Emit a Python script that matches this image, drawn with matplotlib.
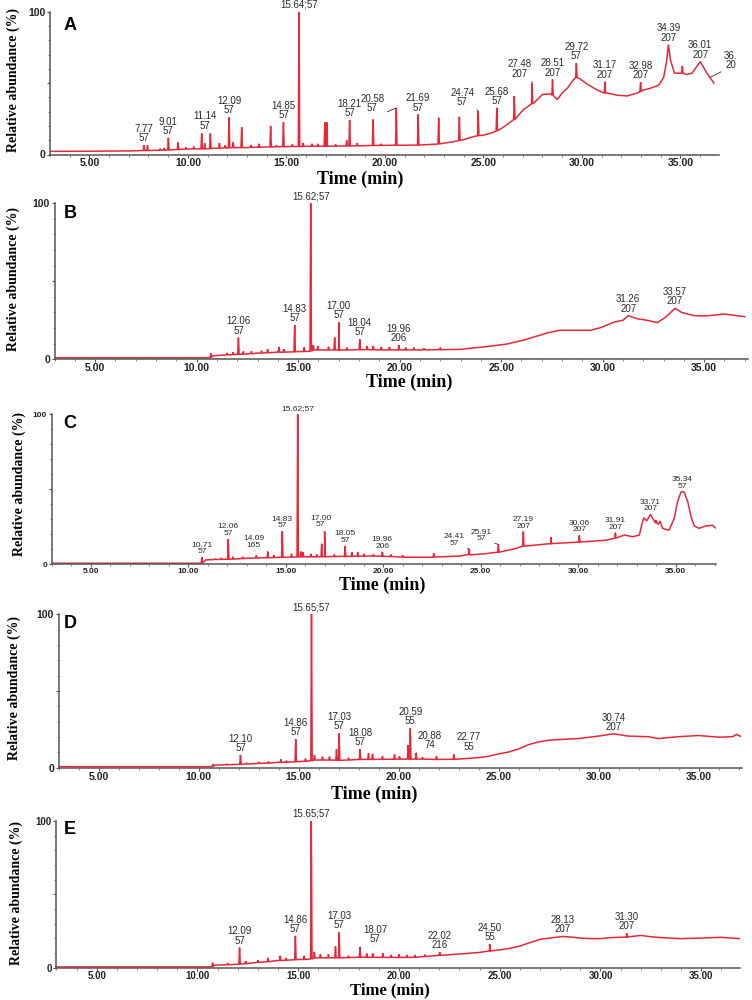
import numpy as np
import matplotlib
matplotlib.use('Agg')
import matplotlib.pyplot as plt
from matplotlib.ticker import MultipleLocator, FixedLocator, FormatStrFormatter

# ---------------- data (retention time in min, relative abundance in %) ----------------
# baseline knots + spikes (time, foot, apex)

a_base_t = [3.0, 5.0, 7.0, 8.5, 10.0, 11.0, 12.0, 13.0, 14.0, 15.0, 16.0, 17.0, 18.0, 19.0, 20.0,
            21.0, 22.0, 22.8, 23.5, 24.0, 24.5, 25.0, 25.5, 26.0, 26.5, 27.0, 27.5, 28.0, 28.4,
            28.75, 29.0, 29.3, 29.55, 29.9, 30.3, 30.8, 31.3, 31.8, 32.3, 32.8, 33.1, 33.5, 33.9,
            34.15, 34.3, 34.39, 34.5, 34.7, 35.0, 35.3, 35.6, 35.85, 36.01, 36.3, 36.5, 36.7]
a_base_y = [2.2, 2.3, 2.5, 3.0, 3.8, 4.0, 4.5, 4.8, 5.2, 5.5, 5.8, 5.8, 6.0, 6.2, 6.4,
            6.5, 6.8, 7.5, 9.0, 10.5, 12.5, 13.5, 15.5, 19.0, 24.0, 31.0, 36.0, 42.0, 42.5,
            38.5, 43.0, 47.0, 52.0, 53.0, 49.0, 45.0, 43.0, 41.5, 41.0, 43.0, 45.0, 46.5, 48.5,
            54.0, 65.0, 77.0, 66.0, 57.0, 57.0, 56.0, 57.0, 62.0, 65.0, 58.0, 54.0, 50.0]
a_spikes = [(7.77, 2.8, 6.5), (7.95, 2.8, 6.5), (8.6, 3.0, 4.0), (8.8, 3.0, 4.5), (9.01, 3.2, 11.7),
            (9.5, 3.5, 8.4), (9.9, 3.8, 5.0), (10.3, 3.9, 5.5), (10.7, 4.0, 14.7), (10.85, 4.0, 8.0),
            (11.14, 4.2, 14.7), (11.6, 4.5, 8.0), (11.9, 4.6, 6.5), (12.09, 4.7, 26.0), (12.3, 4.8, 8.5),
            (12.73, 4.8, 19.0), (13.2, 5.0, 6.5), (13.6, 5.1, 7.5), (14.2, 5.3, 20.0), (14.5, 5.4, 6.5),
            (14.85, 5.5, 22.6), (15.3, 5.6, 7.0), (15.64, 5.6, 100.0), (15.85, 5.7, 8.0), (16.3, 5.8, 7.5),
            (16.6, 5.8, 7.5), (16.95, 5.8, 22.5), (17.05, 5.8, 22.5), (17.5, 5.9, 7.0), (18.06, 6.0, 9.8),
            (18.21, 6.0, 24.0), (18.6, 6.1, 8.0), (19.4, 6.3, 24.5), (19.8, 6.4, 7.5), (20.58, 6.5, 32.6),
            (21.69, 6.6, 28.0), (22.73, 7.3, 25.7), (23.78, 9.8, 26.4), (24.74, 13.2, 30.4),
            (25.68, 16.5, 32.7), (26.57, 24.5, 41.0), (27.48, 35.5, 49.7), (28.51, 41.5, 52.5),
            (29.72, 54.0, 64.0), (31.17, 43.0, 51.0), (32.98, 44.0, 50.7), (35.1, 57.0, 62.0)]
a_labels = ["15.64;57", "7.77\n57", "9.01\n57", "11.14\n57", "12.09\n57", "14.85\n57", "18.21\n57",
            "20.58\n57", "21.69\n57", "24.74\n57", "25.68\n57", "27.48\n207", "28.51\n207", "29.72\n57",
            "31.17\n207", "32.98\n207", "34.39\n207", "36.01\n207", "36.\n20"]
a_label_t = [15.64, 7.77, 9.01, 11.14, 12.09, 14.85, 18.21, 20.58, 21.69, 24.74, 25.68, 27.48, 28.51,
             29.72, 31.17, 32.98, 34.39, 36.01, 36.5]

b_base_t = [3.0, 10.6, 10.8, 12.0, 13.0, 14.0, 15.0, 16.0, 17.0, 18.0, 19.0, 20.0, 21.0, 22.0, 23.0,
            24.2, 25.3, 26.1, 26.8, 27.3, 27.9, 29.4, 29.9, 30.6, 31.0, 31.26, 31.7, 32.2, 32.7, 33.1,
            33.57, 33.9, 34.5, 35.1, 36.0, 37.0]
b_base_y = [1.0, 1.0, 2.3, 3.2, 4.0, 4.6, 5.0, 6.0, 6.0, 6.2, 6.0, 6.0, 6.0, 6.2, 6.4,
            8.0, 9.8, 12.3, 15.0, 17.0, 18.6, 18.6, 20.3, 24.0, 25.0, 28.0, 26.0, 25.0, 23.5, 27.0,
            32.7, 30.0, 28.0, 27.8, 29.0, 27.3]
b_spikes = [(10.7, 1.2, 3.8), (11.5, 2.8, 4.0), (11.8, 3.0, 4.5), (12.06, 3.2, 13.9), (12.3, 3.3, 5.0),
            (12.7, 3.6, 5.0), (13.2, 4.0, 5.5), (13.5, 4.2, 6.5), (14.06, 4.5, 8.0), (14.3, 4.6, 6.5),
            (14.83, 4.8, 22.0), (15.3, 5.0, 7.7), (15.62, 5.2, 100.0), (15.75, 6.0, 9.0), (15.98, 6.0, 8.5),
            (16.5, 6.0, 8.0), (16.8, 6.0, 14.0), (17.0, 6.0, 23.7), (17.4, 6.0, 7.5), (18.04, 6.2, 12.8),
            (18.4, 6.2, 8.5), (18.7, 6.1, 8.5), (19.1, 6.0, 8.0), (19.5, 6.0, 8.0), (19.96, 6.0, 9.2),
            (20.3, 6.0, 7.5), (20.7, 6.0, 7.5), (21.2, 6.0, 7.0), (22.0, 6.2, 7.5)]
b_labels = ["15.62;57", "12.06\n57", "14.83\n57", "17.00\n57", "18.04\n57", "19.96\n206",
            "31.26\n207", "33.57\n207"]
b_label_t = [15.62, 12.06, 14.83, 17.0, 18.04, 19.96, 31.26, 33.57]

c_base_t = [3.0, 10.6, 10.9, 12.0, 13.0, 14.0, 15.0, 16.0, 17.0, 18.0, 19.0, 20.0, 21.3, 22.5, 23.9,
            24.5, 25.2, 26.0, 26.8, 27.3, 28.6, 30.15, 31.4, 31.95, 32.37, 32.8, 33.14, 33.28, 33.37,
            33.52, 33.71, 33.9, 34.12, 34.2, 34.33, 34.58, 34.67, 34.93, 35.1, 35.27, 35.34, 35.44,
            35.62, 35.79, 35.96, 36.21, 36.55, 36.89, 37.06]
c_base_y = [0.7, 0.7, 2.9, 3.4, 4.0, 4.4, 4.7, 5.0, 5.1, 5.3, 5.5, 5.3, 4.7, 4.7, 5.5,
            6.3, 7.0, 8.2, 10.5, 12.2, 13.8, 14.9, 16.0, 17.5, 19.5, 18.4, 19.5, 27.3, 31.0,
            28.9, 33.3, 28.9, 26.7, 28.9, 24.0, 22.9, 22.9, 30.7, 41.8, 48.0, 48.4, 48.0,
            41.8, 31.8, 25.5, 24.0, 25.6, 26.0, 24.2]
c_spikes = [(10.71, 0.9, 4.7), (11.4, 3.2, 3.8), (11.7, 3.3, 4.2), (12.06, 3.4, 16.9), (12.3, 3.5, 5.0),
            (12.8, 3.8, 5.0), (13.5, 4.2, 6.0), (14.09, 4.4, 8.2), (14.4, 4.5, 6.0), (14.83, 4.7, 22.0),
            (15.3, 4.8, 7.0), (15.62, 4.9, 100.0), (15.78, 5.0, 8.5), (15.9, 5.0, 8.0), (16.3, 5.0, 7.0),
            (16.6, 5.0, 6.5), (16.85, 5.1, 13.7), (17.0, 5.1, 22.0), (17.5, 5.2, 6.5), (18.05, 5.3, 12.2),
            (18.4, 5.3, 8.0), (18.7, 5.4, 8.0), (19.0, 5.5, 7.0), (19.5, 5.5, 6.5), (19.96, 5.4, 8.2),
            (20.4, 5.2, 6.5), (21.0, 4.8, 6.0), (22.6, 4.8, 7.3), (24.41, 6.5, 10.2), (25.91, 8.1, 13.3),
            (27.19, 12.1, 21.8), (28.6, 13.8, 18.2), (30.06, 14.8, 19.3), (31.91, 17.4, 21.1),
            (34.0, 27.5, 29.5)]
c_labels = ["15.62;57", "10.71\n57", "12.06\n57", "14.09\n165", "14.83\n57", "17.00\n57", "18.05\n57",
            "19.96\n206", "24.41\n57", "25.91\n57", "27.19\n207", "30.06\n207", "31.91\n207",
            "33.71\n207", "35.34\n57"]
c_label_t = [15.62, 10.71, 12.06, 14.09, 14.83, 17.0, 18.05, 19.96, 24.41, 25.91, 27.19, 30.06, 31.91,
             33.71, 35.34]

d_base_t = [3.0, 10.6, 10.8, 12.0, 13.0, 14.0, 15.0, 16.0, 17.0, 18.0, 19.0, 20.0, 21.0, 22.0, 23.0,
            24.0, 24.5, 25.0, 25.5, 26.0, 26.5, 27.0, 27.5, 28.0, 29.0, 30.0, 30.74, 31.5, 32.5, 33.0,
            34.0, 35.0, 36.0, 36.7, 36.9, 37.1]
d_base_y = [0.7, 0.7, 1.6, 2.2, 2.8, 3.5, 4.0, 5.0, 4.8, 5.4, 5.5, 5.6, 5.6, 5.4, 5.6,
            6.6, 7.4, 9.0, 10.2, 12.2, 15.0, 16.8, 17.9, 18.3, 19.0, 20.6, 22.1, 20.6, 20.2, 19.0,
            20.2, 21.0, 19.9, 20.2, 21.7, 20.5]
d_spikes = [(10.73, 0.9, 2.2), (11.4, 1.9, 2.6), (12.1, 2.2, 8.3), (12.4, 2.4, 3.2), (13.0, 2.8, 3.8),
            (13.5, 3.0, 4.0), (14.12, 3.5, 5.4), (14.4, 3.6, 4.6), (14.86, 3.9, 18.6), (15.35, 4.2, 5.9),
            (15.65, 4.5, 100.0), (15.8, 5.0, 8.3), (16.2, 5.0, 7.2), (16.55, 5.0, 7.2), (16.9, 4.9, 12.0),
            (17.03, 4.8, 22.3), (17.5, 5.0, 6.5), (18.08, 5.4, 12.0), (18.5, 5.4, 9.5), (18.7, 5.4, 9.0),
            (19.2, 5.5, 7.5), (19.8, 5.5, 8.6), (20.05, 5.6, 7.5), (20.48, 5.6, 14.8), (20.59, 5.6, 25.7),
            (20.88, 5.6, 9.6), (21.2, 5.6, 6.8), (21.9, 5.4, 7.4), (22.77, 5.5, 8.5)]
d_labels = ["15.65;57", "12.10\n57", "14.86\n57", "17.03\n57", "18.08\n57", "20.59\n55", "20.88\n74",
            "22.77\n55", "30.74\n207"]
d_label_t = [15.65, 12.1, 14.86, 17.03, 18.08, 20.59, 20.88, 22.77, 30.74]

e_base_t = [3.0, 10.6, 10.8, 12.0, 13.0, 14.0, 15.0, 16.0, 17.0, 18.0, 19.0, 20.0, 21.0, 22.0, 23.0,
            24.0, 24.5, 25.0, 25.5, 26.0, 26.5, 27.0, 27.5, 28.13, 28.5, 29.0, 29.5, 30.0, 30.5, 31.3,
            32.0, 32.5, 33.0, 34.0, 35.0, 36.0, 36.9]
e_base_y = [0.4, 0.4, 1.5, 2.2, 3.7, 4.8, 5.5, 6.6, 6.6, 7.0, 6.9, 6.9, 7.2, 8.3, 9.2,
            10.3, 11.3, 12.0, 13.1, 14.6, 17.0, 19.2, 20.1, 21.2, 20.8, 20.1, 19.7, 19.7, 20.4, 20.8,
            21.9, 21.0, 20.4, 19.7, 20.1, 20.6, 19.7]
e_spikes = [(10.75, 0.6, 3.3), (11.5, 1.9, 3.0), (12.09, 2.3, 13.6), (12.4, 2.6, 4.4), (13.0, 3.5, 5.0),
            (13.5, 4.0, 6.6), (14.11, 4.8, 8.0), (14.4, 5.0, 6.5), (14.86, 5.3, 21.6), (15.3, 5.5, 8.0),
            (15.65, 5.8, 100.0), (15.8, 6.5, 10.7), (16.1, 6.6, 9.0), (16.5, 6.6, 9.0), (16.85, 6.6, 14.5),
            (17.03, 6.6, 23.9), (17.5, 6.8, 8.0), (18.07, 7.0, 14.0), (18.4, 7.0, 9.5), (18.7, 7.0, 9.5),
            (19.2, 6.9, 9.7), (19.6, 6.9, 8.5), (20.0, 6.9, 9.0), (20.4, 6.9, 8.5), (20.8, 7.0, 8.5),
            (21.3, 7.5, 8.8), (22.02, 8.3, 10.5), (24.5, 11.3, 16.0), (31.3, 20.8, 23.5)]
e_labels = ["15.65;57", "12.09\n57", "14.86\n57", "17.03\n57", "18.07\n57", "22.02\n216", "24.50\n55",
            "28.13\n207", "31.30\n207"]
e_label_t = [15.65, 12.09, 14.86, 17.03, 18.07, 22.02, 24.5, 28.13, 31.3]

# ---------------- layout (pixels on a 752x1000 canvas) ----------------
W, H = 752, 1000
RED = '#e8283a'
SPIKE_W = 0.035

# name, data..., (left, right, top(100 %), bottom(0 %), xmax), letter y, ylabel (x, y), xlabel (x, y),
# peak label size, tick label size, xlabel size
PANELS = [
    ('A', a_base_t, a_base_y, a_spikes, a_labels, a_label_t,
     (50, 719, 11.7, 154.5, 36.96), 25, (13, 80), (360, 179), 7, 7.5, 13),
    ('B', b_base_t, b_base_y, b_spikes, b_labels, b_label_t,
     (54.5, 748, 203.3, 359.3, 37.16), 213, (13, 279), (409, 382), 7, 7.5, 13),
    ('C', c_base_t, c_base_y, c_spikes, c_labels, c_label_t,
     (51.6, 716, 414.3, 564.3, 37.07), 423, (19, 484), (382, 585), 6, 6, 13),
    ('D', d_base_t, d_base_y, d_spikes, d_labels, d_label_t,
     (58.5, 741.7, 614.3, 767.7, 37.16), 624, (14, 688), (374, 794), 7, 7.5, 13),
    ('E', e_base_t, e_base_y, e_spikes, e_labels, e_label_t,
     (56.4, 740.3, 821, 967.5, 36.94), 830, (16, 893), (390, 990), 7, 7, 12),
]

# label offsets (px) from the peak apex; True draws a leader line
OFFSETS = {
    ('A', '11.14'): (-5, 3, False),
    ('A', '20.58'): (-24, -5, True),
    ('A', '24.74'): (-16, 4, True),
    ('A', '27.48'): (-13, 5, True),
    ('A', '36.'): (14, 7, True),
    ('C', '14.09'): (-14, 3, True),
    ('C', '17.00'): (-4, 3, False),
    ('C', '24.41'): (-15, 2, True),
    ('C', '25.91'): (-17, 2, True),
    ('D', '20.88'): (14, 3, True),
    ('D', '22.77'): (15, 3, True),
    ('E', '18.07'): (15, 3, True),
}


def build_trace(base_t, base_y, spikes):
    pts = list(zip(base_t, base_y))
    for t, foot, top in spikes:
        pts += [(t - SPIKE_W, foot), (t, top), (t + SPIKE_W, foot)]
    pts.sort()
    return np.array(pts).T


fig = plt.figure(figsize=(W / 100, H / 100), dpi=100)

for (name, bt, by, spk, labels, label_t, box, letter_y, ylab_xy, xlab_xy,
     lab_size, tick_size, xlab_size) in PANELS:
    left, right, top, bottom, xmax = box
    ax = fig.add_axes([left / W, 1 - bottom / H, (right - left) / W, (bottom - top) / H])
    tx, ty = build_trace(bt, by, spk)
    ax.plot(tx, ty, color=RED, lw=1.1, solid_joinstyle='miter')
    ax.set_xlim(3, xmax)
    ax.set_ylim(0, 100)

    for s in ('top', 'right'):
        ax.spines[s].set_visible(False)
    for s in ('left', 'bottom'):
        ax.spines[s].set_color('#555555')
        ax.spines[s].set_linewidth(1.1)

    ax.xaxis.set_major_locator(FixedLocator([5, 10, 15, 20, 25, 30, 35]))
    ax.xaxis.set_major_formatter(FormatStrFormatter('%.2f'))
    ax.xaxis.set_minor_locator(MultipleLocator(1))
    ax.yaxis.set_major_locator(FixedLocator([0, 50, 100]))
    ax.set_yticklabels(['0', '', '100'])
    ax.yaxis.set_minor_locator(MultipleLocator(10))
    ax.tick_params(which='major', length=2, width=0.8, color='#555555', pad=1.2,
                   labelsize=tick_size, labelcolor='#222222')
    ax.tick_params(axis='x', which='major', pad=0.8)
    ax.tick_params(which='minor', length=1.3, width=0.6, color='#777777')
    for lab in ax.get_xticklabels() + ax.get_yticklabels():
        lab.set_fontweight('bold')
        lab.set_family('Liberation Sans')

    for text, t0 in zip(labels, label_t):
        near = np.abs(tx - t0) <= 0.05
        y0 = ty[near].max()
        key = (name, text.split('\n')[0].split(';')[0])
        dx, dy, leader = OFFSETS.get(key, (0, 2, False))
        ha = 'left' if text.startswith('36.\n') else 'center'
        arrow = None
        if leader:
            rel = (1, 0) if dx < 0 else (0, 0)
            arrow = dict(arrowstyle='-', color='#333333', lw=0.6, shrinkA=0, shrinkB=0,
                         relpos=rel)
        ax.annotate(text, (t0, y0), xytext=(dx, dy), textcoords='offset pixels',
                    ha=ha, va='bottom', fontsize=lab_size, family='Liberation Sans',
                    color='#2a2a2a', linespacing=0.9, multialignment='center',
                    annotation_clip=False, arrowprops=arrow)

    fig.text(70 / W, 1 - letter_y / H, name, fontsize=13, fontweight='bold',
             family='Liberation Sans', ha='center', va='center')
    fig.text(ylab_xy[0] / W, 1 - ylab_xy[1] / H, 'Relative abundance (%)', rotation=90,
             fontsize=10, fontweight='bold', family='Liberation Serif', ha='center', va='center')
    fig.text(xlab_xy[0] / W, 1 - xlab_xy[1] / H, 'Time (min)', fontsize=xlab_size,
             fontweight='bold', family='Liberation Serif', ha='center', va='center')

fig.savefig('out.png', dpi=100)
